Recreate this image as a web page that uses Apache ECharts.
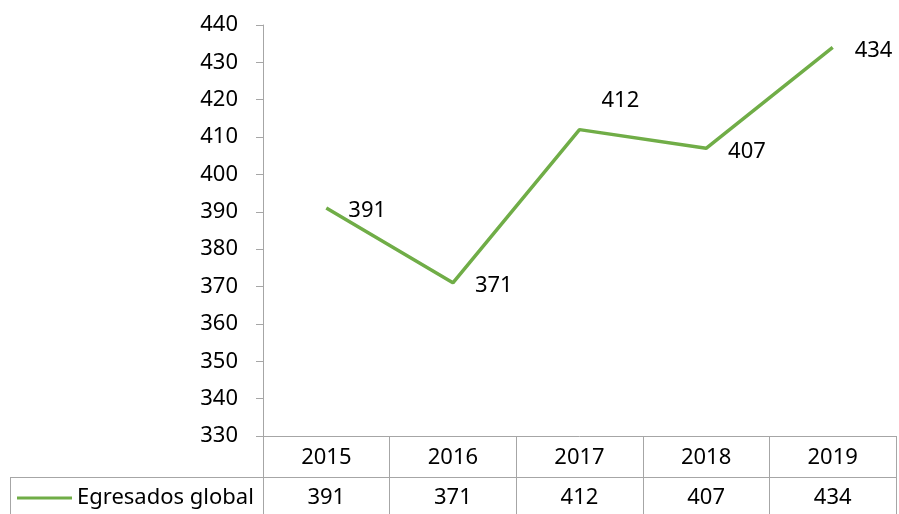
<!DOCTYPE html>
<html>
<head>
<meta charset="utf-8">
<script src="https://cdn.jsdelivr.net/npm/echarts@6/dist/echarts.min.js"></script>
<style>
  html, body { margin: 0; padding: 0; background: #fff; }
  #main { width: 899px; height: 514px; }
</style>
</head>
<body>
<div id="main"></div>
<script>
// datos
var years = ['2015', '2016', '2017', '2018', '2019'];
var egresados = [391, 371, 412, 407, 434];
var seriesName = 'Egresados global';
var yTicks = { min: 330, max: 440, step: 10 };

var font = 'Noto Sans';
var fs = 22;
var gray = '#a6a6a6';
var green = '#70ad47';

var myChart = echarts.init(document.getElementById('main'));

var option = {
    backgroundColor: '#fff',
    animation: false,
    textStyle: { fontFamily: font },
    grid: { left: 263, right: 3, top: 25, bottom: 78 },
    legend: {
        data: [seriesName],
        left: 17,
        top: 487,
        padding: 0,
        icon: 'rect',
        itemWidth: 55,
        itemHeight: 3,
        itemGap: 0,
        textStyle: { fontSize: fs, color: '#000', fontFamily: font }
    },
    xAxis: [{
        type: 'category',
        data: years,
        boundaryGap: true,
        axisLine: { lineStyle: { color: gray, width: 1 } },
        axisTick: { show: true, interval: 0, length: 78, lineStyle: { color: gray } },
        axisLabel: { fontSize: fs, color: '#000', margin: 11, interval: 0 }
    }, {
        type: 'category',
        data: egresados.map(function (v) { return String(v); }),
        position: 'bottom',
        offset: 41,
        boundaryGap: true,
        axisLine: { show: false },
        axisTick: { show: false },
        axisLabel: { fontSize: fs, color: '#000', margin: 10, interval: 0 }
    }],
    yAxis: {
        type: 'value',
        min: yTicks.min,
        max: yTicks.max,
        interval: yTicks.step,
        splitLine: { show: false },
        axisLine: { show: true, lineStyle: { color: gray } },
        axisTick: { show: true, length: 7, lineStyle: { color: gray } },
        axisLabel: { fontSize: fs, color: '#000', margin: 25, padding: [5, 0, 0, 0] }
    },
    graphic: [
        // bordes de la tabla de datos
        { type: 'line', shape: { x1: 10, y1: 477.5, x2: 896, y2: 477.5 }, style: { stroke: gray, lineWidth: 1 } },
        { type: 'line', shape: { x1: 10.5, y1: 477, x2: 10.5, y2: 514 }, style: { stroke: gray, lineWidth: 1 } }
    ],
    series: [{
        name: seriesName,
        type: 'line',
        symbol: 'circle',
        symbolSize: 0,
        showSymbol: true,
        color: green,
        lineStyle: { color: green, width: 3.5 },
        label: {
            show: true,
            position: 'right',
            distance: 22,
            offset: [0, 3],
            fontSize: fs,
            color: '#000'
        },
        data: egresados.map(function (v, i) {
            if (i === 2) {
                return { value: v, label: { offset: [0, -29] } };
            }
            return v;
        })
    }]
};

myChart.setOption(option);
</script>
</body>
</html>
